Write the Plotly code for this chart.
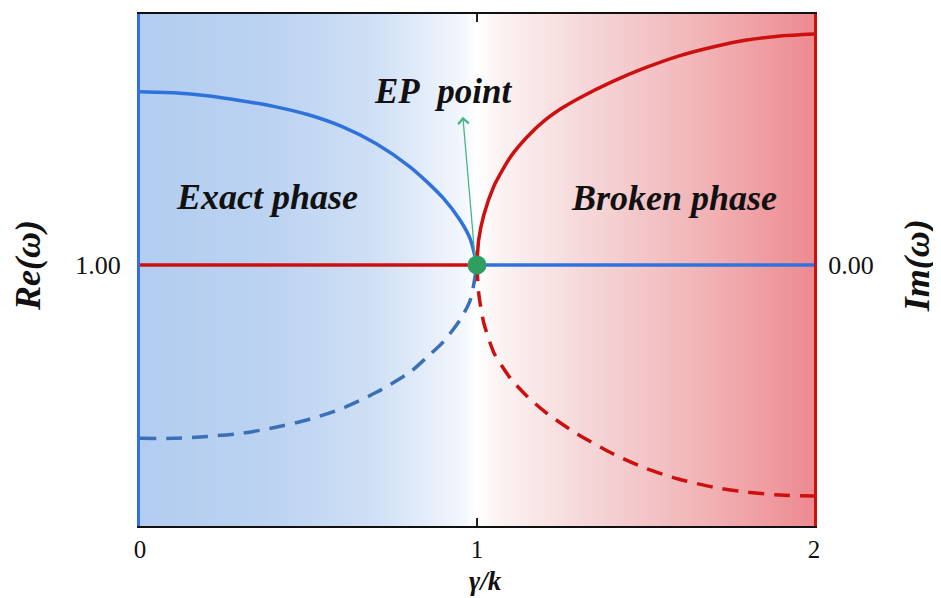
import numpy as np
import plotly.graph_objects as go

# ---- data ----
# Exact phase (gamma/k <= 1): real parts of the two eigenfrequencies
g_exact = [0.0, 0.1, 0.2, 0.3, 0.4, 0.5, 0.6, 0.7, 0.8, 0.85, 0.9, 0.95, 0.98, 1.0]
re_upper = [1.700, 1.696, 1.684, 1.664, 1.640, 1.607, 1.559, 1.491, 1.398, 1.338, 1.270, 1.181, 1.105, 1.000]
re_lower = [0.300, 0.300, 0.308, 0.320, 0.344, 0.376, 0.421, 0.485, 0.566, 0.626, 0.690, 0.779, 0.859, 1.000]

# Broken phase (gamma/k >= 1): imaginary parts
g_broken = [1.0, 1.005, 1.02, 1.05, 1.075, 1.1, 1.15, 1.2, 1.25, 1.3, 1.4, 1.5, 1.6, 1.7, 1.8, 1.9, 2.0]
im_upper = [0.0, 0.101, 0.201, 0.318, 0.382, 0.438, 0.519, 0.583, 0.632, 0.672, 0.740, 0.797, 0.845, 0.881, 0.909, 0.925, 0.933]
im_lower = [0.0, -0.113, -0.233, -0.354, -0.410, -0.459, -0.532, -0.591, -0.640, -0.684, -0.760, -0.821, -0.865, -0.897, -0.917, -0.929, -0.933]

# flat branches
g_flat_im = [0.0, 1.0]      # Im = 0 in exact phase
im_flat = [0.0, 0.0]
g_flat_re = [1.0, 2.0]      # Re = 1 in broken phase
re_flat = [1.0, 1.0]

ep_g, ep_im = [1.0], [0.0]

x_ticks = [0, 1, 2]
x_ticktext = ["0", "1", "2"]

BLUE = "#2f72dc"
BLUE_D = "#3b6fb6"
RED = "#cc1010"
GREEN = "#2e9e62"
SERIF = "Liberation Serif"

fig = go.Figure()

# background gradient (blue -> white -> red)
gx = np.linspace(0, 2, 201)
fig.add_trace(go.Heatmap(
    x=gx, y=[-0.2, 2.2], z=[gx, gx], zsmooth="best", showscale=False,
    hoverinfo="skip",
    colorscale=[[0.0, "#b2cdf0"], [0.2, "#bcd3f1"], [0.35, "#d0e0f5"],
                [0.48, "#f3f7fd"], [0.5, "#ffffff"], [0.53, "#fcf3f3"],
                [0.7, "#f4cfd1"], [0.85, "#f1b0b3"], [1.0, "#ed8a90"]],
    zmin=0, zmax=2, xaxis="x", yaxis="y"))

# Re branches (left axis)
fig.add_trace(go.Scatter(x=g_exact, y=re_upper, mode="lines",
                         line=dict(color=BLUE, width=3.5, shape="spline", smoothing=0.7), yaxis="y"))
fig.add_trace(go.Scatter(x=g_exact, y=re_lower, mode="lines",
                         line=dict(color=BLUE_D, width=3.5, dash="16px,10px", shape="spline", smoothing=0.7), yaxis="y"))
fig.add_trace(go.Scatter(x=g_flat_re, y=re_flat, mode="lines",
                         line=dict(color=BLUE, width=3.5), yaxis="y"))

# Im branches (right axis)
fig.add_trace(go.Scatter(x=g_broken, y=im_upper, mode="lines",
                         line=dict(color=RED, width=3.5, shape="spline", smoothing=0.7), yaxis="y2"))
fig.add_trace(go.Scatter(x=g_broken, y=im_lower, mode="lines",
                         line=dict(color=RED, width=3.5, dash="16px,10px", shape="spline", smoothing=0.7), yaxis="y2"))
fig.add_trace(go.Scatter(x=g_flat_im, y=im_flat, mode="lines",
                         line=dict(color=RED, width=3.5), yaxis="y2"))

# exceptional point
fig.add_trace(go.Scatter(x=ep_g, y=ep_im, mode="markers",
                         marker=dict(color=GREEN, size=19), yaxis="y2"))

title_font = dict(family=SERIF, size=36, color="#111")
fig.update_layout(
    width=933, height=590,
    margin=dict(l=132, r=127, t=4, b=72),
    paper_bgcolor="white", plot_bgcolor="white",
    showlegend=False,
    xaxis=dict(range=[0, 2], tickvals=x_ticks, ticktext=x_ticktext,
               ticks="inside", ticklen=8, tickwidth=1.5, tickcolor="#222",
               showline=True, linecolor="#111", linewidth=2, mirror="ticks",
               showgrid=False, zeroline=False,
               tickfont=dict(family=SERIF, size=25, color="#111")),
    yaxis=dict(range=[-0.054, 2.014], tickvals=[1.0], ticktext=["1.00"],
               ticks="", showline=True, linecolor=BLUE, linewidth=3,
               showgrid=False, zeroline=False, ticklabelstandoff=11,
               tickfont=dict(family=SERIF, size=26, color="#111")),
    yaxis2=dict(range=[-1.054, 1.014], overlaying="y", side="right",
                tickvals=[0.0], ticktext=["0.00"], ticks="",
                showline=True, linecolor=RED, linewidth=3,
                showgrid=False, zeroline=False, ticklabelstandoff=6,
                tickfont=dict(family=SERIF, size=26, color="#111")),
    annotations=[
        dict(text="<b><i>Exact phase</i></b>", x=0.377, y=1.274, xref="x", yref="y",
             showarrow=False, font=dict(family=SERIF, size=36, color="#111"),
             xanchor="center", yanchor="middle"),
        dict(text="<b><i>Broken phase</i></b>", x=1.585, y=1.27, xref="x", yref="y",
             showarrow=False, font=dict(family=SERIF, size=36, color="#111"),
             xanchor="center", yanchor="middle"),
        dict(text="<b><i>EP\u00a0\u00a0point</i></b>", x=0.9, y=1.70, xref="x", yref="y",
             showarrow=False, font=dict(family=SERIF, size=35, color="#111"),
             xanchor="center", yanchor="middle"),
        dict(text="", x=0.958, y=1.599, xref="x", yref="y",
             ax=0.994, ay=1.03, axref="x", ayref="y",
             showarrow=True, arrowhead=4, arrowsize=1.6, arrowwidth=1.3,
             arrowcolor="#4cb585"),
        dict(text="<b><i>Re(ω)</i></b>", x=-0.166, y=0.508, xref="paper", yref="paper",
             textangle=-90, showarrow=False, font=title_font,
             xanchor="center", yanchor="middle"),
        dict(text="<b><i>Im(ω)</i></b>", x=1.152, y=0.508, xref="paper", yref="paper",
             textangle=-90, showarrow=False, font=title_font,
             xanchor="center", yanchor="middle"),
        dict(text="<b><i>γ/k</i></b>", x=0.512, y=-0.108, xref="paper", yref="paper",
             showarrow=False, font=dict(family=SERIF, size=27, color="#111"),
             xanchor="center", yanchor="middle"),
    ],
)

fig.write_html("out.html")
